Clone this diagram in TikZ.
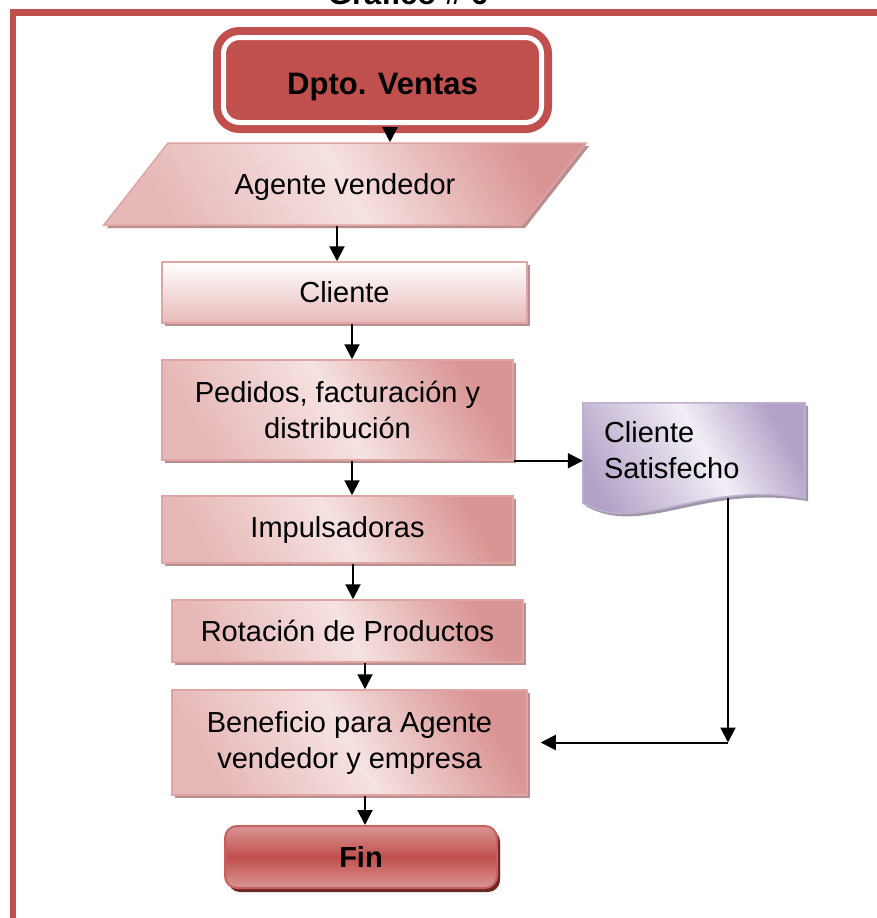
\documentclass[tikz,border=0pt]{standalone}
\usepackage{fontspec}
\setmainfont{Liberation Sans}
\usetikzlibrary{arrows.meta, positioning, shapes.geometric, shadows, backgrounds}
\definecolor{HeaderRed}{RGB}{192, 80, 77}
\definecolor{RoseDark}{RGB}{217, 149, 148}
\definecolor{RoseMid}{RGB}{230, 185, 184}
\definecolor{RoseLight}{RGB}{245, 226, 225}
\definecolor{RoseShadow}{RGB}{186, 142, 142}
\definecolor{FinShadow}{RGB}{105, 40, 38}
\definecolor{LilacDark}{RGB}{179, 162, 199}
\definecolor{LilacLight}{RGB}{242, 238, 246}
\definecolor{LilacShadow}{RGB}{160, 150, 170}
\pgfdeclarehorizontalshading{roseband}{100bp}{color(0bp)=(RoseMid); color(25bp)=(RoseMid); color(50bp)=(RoseLight); color(75bp)=(RoseDark); color(100bp)=(RoseDark)}
\pgfdeclarehorizontalshading{lilacband}{100bp}{color(0bp)=(LilacDark); color(25bp)=(LilacDark); color(55bp)=(LilacLight); color(75bp)=(LilacDark); color(100bp)=(LilacDark)}

\begin{document}
\begin{tikzpicture}[
    x=1pt, y=-1pt,
    box/.style={
        draw=RoseDark!85,
        line width=1.5pt,
        align=center,
        inner sep=0pt,
        font=\fontsize{29}{36}\selectfont,
        drop shadow={shadow xshift=3pt, shadow yshift=-3pt, fill=RoseShadow, opacity=1}
    },
    process/.style={box, shade, shading=roseband, shading angle=30},
    topgrad/.style={box, top color=white, bottom color=RoseMid},
    io/.style={box, trapezium, trapezium left angle=34, trapezium right angle=146,
        trapezium stretches=true, shade, shading=roseband, shading angle=30},
    dept/.style={draw=HeaderRed, line width=8pt, double=white, double distance=5pt,
        fill=HeaderRed, rounded corners=16pt, minimum width=318pt, minimum height=85pt,
        font=\fontsize{31}{36}\selectfont\bfseries},
    terminator/.style={box, rounded corners=12pt, draw=HeaderRed!90, line width=2pt,
        top color=RoseDark, bottom color=RoseDark, middle color=HeaderRed,
        drop shadow={shadow xshift=3pt, shadow yshift=-4pt, fill=FinShadow, opacity=1},
        font=\fontsize{29}{36}\selectfont\bfseries},
    doctext/.style={minimum width=222pt, minimum height=95pt, text width=180pt,
        inner sep=0pt, align=left, font=\fontsize{29}{36}\selectfont},
    docshape/.style={draw=LilacDark!85, line width=1.5pt, shade, shading=lilacband, shading angle=30,
        drop shadow={shadow xshift=3pt, shadow yshift=-3pt, fill=LilacShadow, opacity=1}},
    frame/.style={HeaderRed, line width=6.5pt},
    arrow/.style={-{Triangle[length=15pt, width=15pt]}, line width=2pt, black},
    title/.style={font=\fontsize{31}{36}\selectfont\bfseries}
]
\useasboundingbox (0,0) rectangle (877,918);

% Frame and title
\draw[frame] (13,918) -- (13,12.5) -- (877,12.5);
\node[title, anchor=base] (titulo) at (408,5) {Gráfico \# 6};

% Flow boxes
\node[dept] (dpto_ventas) at (382.5,80) {\raisebox{-7pt}[\height][\depth]{Dpto. Ventas}};
\node[io, minimum width=484pt, minimum height=82pt] (agente_vendedor) at (345,184) {\raisebox{-3pt}[\height][\depth]{Agente vendedor}};
\node[topgrad, minimum width=365pt, minimum height=61pt] (cliente) at (344.5,292.5) {Cliente};
\node[process, minimum width=351pt, minimum height=100pt] (pedidos) at (337.5,410) {Pedidos, facturación y\\distribución};
\node[process, minimum width=351pt, minimum height=67pt] (impulsadoras) at (337.5,529.5) {Impulsadoras};
\node[process, minimum width=351pt, minimum height=62pt] (rotacion) at (347.5,631) {Rotación de Productos};
\node[process, minimum width=355pt, minimum height=105pt] (beneficio) at (349.5,742.5) {Beneficio para Agente\\vendedor y empresa};
\node[terminator, minimum width=272pt, minimum height=62pt] (fin) at (361,857) {Fin};

% Document on the right
\node[doctext] (cliente_satisfecho) at (694,450.5) {Cliente\\Satisfecho};
\begin{pgfonlayer}{background}
\path[docshape] (cliente_satisfecho.north west) -- (cliente_satisfecho.north east)
    -- (cliente_satisfecho.south east)
    .. controls ([xshift=-105pt, yshift=18pt]cliente_satisfecho.south east)
    and ([xshift=57pt, yshift=-37pt]cliente_satisfecho.south west)
    .. ([yshift=-5pt]cliente_satisfecho.south west) -- cycle;
\end{pgfonlayer}

% Connections down the main column
\draw[arrow] ([xshift=7.5pt]dpto_ventas.south) -- ([xshift=7.5pt]dpto_ventas.south |- agente_vendedor.north);
\draw[arrow] ([xshift=-7.5pt]cliente.north |- agente_vendedor.south) -- ([xshift=-7.5pt]cliente.north);
\draw[arrow] ([xshift=7.5pt]cliente.south) -- ([xshift=7.5pt]cliente.south |- pedidos.north);
\draw[arrow] ([xshift=14.5pt]pedidos.south) -- ([xshift=14.5pt]pedidos.south |- impulsadoras.north);
\draw[arrow] ([xshift=15.5pt]impulsadoras.south) -- ([xshift=15.5pt]impulsadoras.south |- rotacion.north);
\draw[arrow] ([xshift=17.5pt]rotacion.south) -- ([xshift=17.5pt]rotacion.south |- beneficio.north);
\draw[arrow] ([xshift=15.5pt]beneficio.south) -- ([xshift=15.5pt]beneficio.south |- fin.north);

% Side branch
\coordinate (codo) at ([xshift=34pt]cliente_satisfecho.south |- beneficio.east);
\draw[arrow] (pedidos.south east) -- (pedidos.south east -| cliente_satisfecho.west);
\draw[arrow] ([xshift=34pt]cliente_satisfecho.south) -- (codo);
\draw[arrow] (codo) -- ([xshift=13pt]beneficio.east);

\end{tikzpicture}
\end{document}
